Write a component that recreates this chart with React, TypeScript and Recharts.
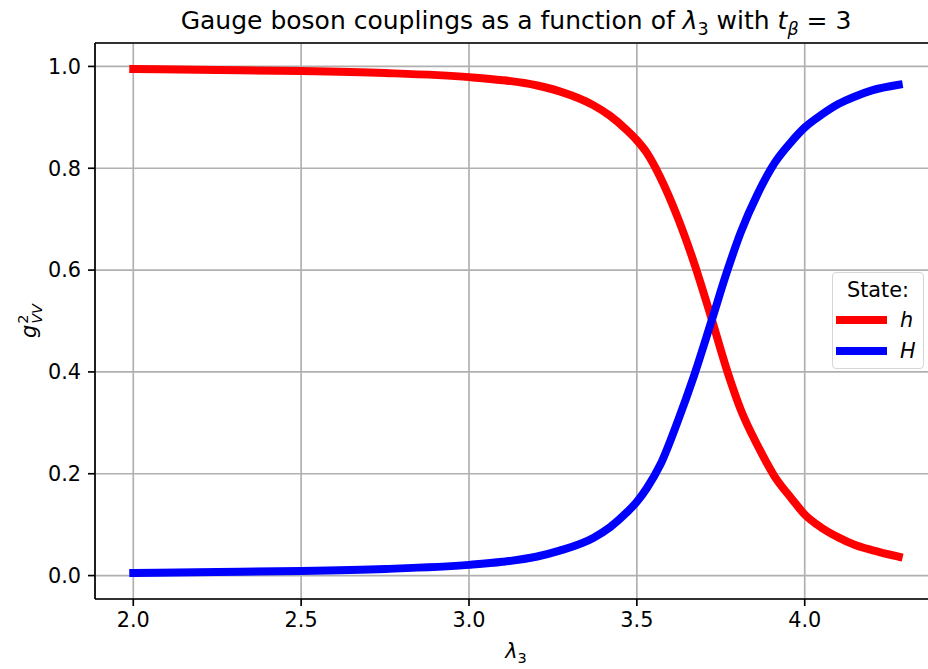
import {
  LineChart, Line, XAxis, YAxis, CartesianGrid, ReferenceLine,
} from 'recharts'

const FONT = '"DejaVu Sans", sans-serif'

// lambda_3 sample points
const LAMBDA3 = [
  2.0, 2.25, 2.5, 2.75, 3.0, 3.1, 3.2, 3.27, 3.37, 3.42, 3.47, 3.5, 3.53, 3.57,
  3.62, 3.67, 3.72, 3.77, 3.81, 3.86, 3.91, 3.96, 4.0, 4.05, 4.1, 4.15, 4.2, 4.28,
]
// g^2_VV for the light state h
const H_LIGHT = [
  0.995, 0.993, 0.991, 0.987, 0.979, 0.973, 0.963, 0.951, 0.924, 0.903, 0.875, 0.855, 0.83, 0.782,
  0.706, 0.615, 0.51, 0.4, 0.325, 0.255, 0.195, 0.152, 0.12, 0.094, 0.075, 0.06, 0.05, 0.037,
]
// g^2_VV for the heavy state H
const H_HEAVY = [
  0.005, 0.007, 0.009, 0.013, 0.021, 0.027, 0.037, 0.049, 0.074, 0.095, 0.124, 0.145, 0.172, 0.218,
  0.3, 0.392, 0.495, 0.6, 0.675, 0.75, 0.81, 0.852, 0.88, 0.905, 0.926, 0.941, 0.953, 0.964,
]
const X_TICKS = [2.0, 2.5, 3.0, 3.5, 4.0]
const Y_TICKS = [0, 0.2, 0.4, 0.6, 0.8, 1.0]

const SERIES = [
  { key: 'h', label: 'h', color: '#ff0000', values: H_LIGHT },
  { key: 'H', label: 'H', color: '#0000ff', values: H_HEAVY },
]

const data = LAMBDA3.map((x, i) => {
  const row: Record<string, number> = { x }
  for (const s of SERIES) row[s.key] = s.values[i]
  return row
})

const TICK = { fill: '#000', fontSize: 20.8, fontFamily: FONT }
const SPINE = { stroke: '#000', strokeWidth: 1.67 }

function StateLegend() {
  return (
    <div style={{
      position: 'absolute', left: 832, top: 272, boxSizing: 'border-box', width: 92, height: 97,
      background: 'rgba(255,255,255,0.8)', border: '1.5px solid #d6d6d6', borderRadius: 4,
      fontFamily: FONT, fontSize: 20.8, color: '#000',
    }}>
      <div style={{ position: 'absolute', left: 0, right: 0, top: 4, textAlign: 'center', lineHeight: '26px' }}>
        State:
      </div>
      {SERIES.map((s, i) => (
        <div key={s.key} style={{
          position: 'absolute', left: 3, top: 34 + i * 31, height: 26, display: 'flex', alignItems: 'center',
        }}>
          <span style={{ display: 'inline-block', width: 51, height: 8, background: s.color }} />
          <span style={{ fontStyle: 'italic', marginLeft: 13, lineHeight: '26px' }}>{s.label}</span>
        </div>
      ))}
    </div>
  )
}

export default function App() {
  return (
    <div style={{
      position: 'absolute', left: 0, top: 0, width: 928, height: 669, overflow: 'hidden',
      background: '#fff',
    }}>
      <LineChart width={940} height={669} data={data}
                 margin={{ top: 43, right: 3, bottom: 40, left: 0 }}>
        <CartesianGrid stroke="#b0b0b0" strokeWidth={1.67} />
        <XAxis
          dataKey="x" type="number" domain={[1.886, 4.394]} ticks={X_TICKS} height={30}
          allowDataOverflow tickFormatter={(v: number) => v.toFixed(1)}
          tick={TICK} tickSize={7} tickMargin={6}
          axisLine={SPINE} tickLine={SPINE}
        />
        <YAxis
          type="number" domain={[-0.046, 1.046]} ticks={Y_TICKS} allowDataOverflow width={95}
          tickFormatter={(v: number) => v.toFixed(1)}
          tick={TICK} tickSize={7} tickMargin={7}
          axisLine={SPINE} tickLine={SPINE}
        />
        <ReferenceLine y={1.046} stroke="#000" strokeWidth={1.67} ifOverflow="visible" />
        {SERIES.map((s) => (
          <Line
            key={s.key} type="monotone" dataKey={s.key} name={s.label}
            stroke={s.color} strokeWidth={8} strokeLinecap="square"
            dot={false} activeDot={false} isAnimationActive={false}
          />
        ))}
      </LineChart>

      <StateLegend />

      {/* title and axis labels */}
      <div style={{
        position: 'absolute', left: 0, width: 1032, top: 6, textAlign: 'center',
        fontFamily: FONT, fontSize: 25, color: '#000', lineHeight: '30px', whiteSpace: 'nowrap',
      }}>
        Gauge boson couplings as a function of <i>λ</i><sub style={{ fontSize: 17.5, lineHeight: 0 }}>3</sub> with{' '}
        <i>t</i><sub style={{ fontSize: 17.5, fontStyle: 'italic', lineHeight: 0 }}>β</sub> = 3
      </div>
      <div style={{
        position: 'absolute', left: 0, width: 1032, top: 638, textAlign: 'center',
        fontFamily: FONT, fontSize: 20.8, color: '#000', lineHeight: '26px',
      }}>
        <i>λ</i><sub style={{ fontSize: 14.5, lineHeight: 0 }}>3</sub>
      </div>
      <div style={{
        position: 'absolute', left: 30, top: 321, transform: 'translate(-50%, -50%) rotate(-90deg)',
        fontFamily: FONT, fontSize: 20.8, color: '#000', lineHeight: '26px', whiteSpace: 'nowrap',
      }}>
        <i>g</i>
        <span style={{
          display: 'inline-flex', flexDirection: 'column', verticalAlign: 'middle',
          lineHeight: '14px', fontSize: 14.5, marginLeft: 1,
        }}>
          <span>2</span>
          <span style={{ fontStyle: 'italic' }}>VV</span>
        </span>
      </div>
    </div>
  )
}
